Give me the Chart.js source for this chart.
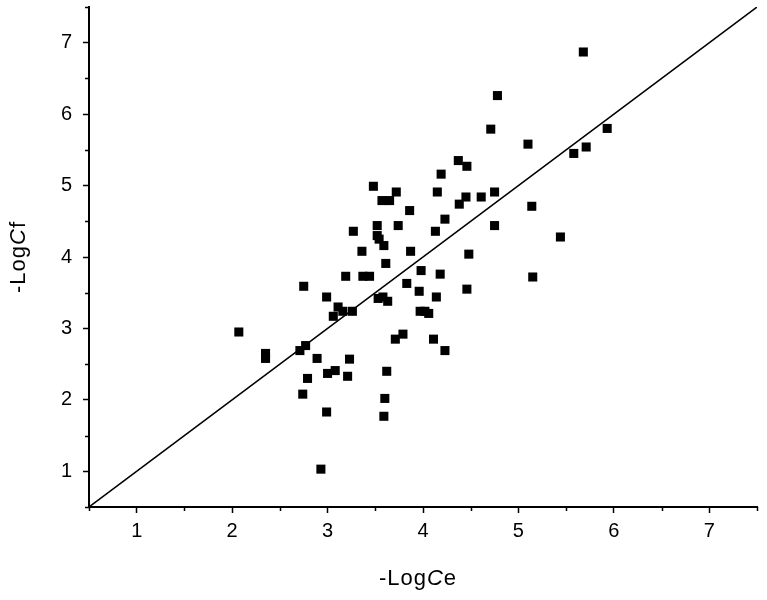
<!DOCTYPE html>
<html>
<head>
<meta charset="utf-8">
<script src="https://cdn.jsdelivr.net/npm/chart.js@4.4.0/dist/chart.umd.min.js"></script>
<style>
  html, body { margin: 0; padding: 0; background: #fff; }
  #wrap { width: 767px; height: 600px; }
</style>
</head>
<body>
<div id="wrap"><canvas id="scatterChart" width="767" height="600"></canvas></div>
<script>
// -------- data -------- //

// -Log Ce (x) for each square marker
const logCe = [
  2.07, 2.35, 2.35, 2.75, 2.71, 2.77, 2.79, 2.89, 2.74, 2.99,
  3.00, 3.08, 2.99, 2.93, 3.06, 3.11, 3.16, 3.26, 3.23, 3.21,
  3.19, 3.27, 3.36, 3.37, 3.44, 3.48, 3.52, 3.52, 3.54, 3.59,
  3.57, 3.65, 3.72, 3.61, 3.53, 3.58, 3.63, 3.62, 3.60, 3.59,
  3.74, 3.86, 3.87, 3.83, 3.71, 3.79, 3.97, 4.02, 4.06, 4.11,
  4.23, 3.96, 4.14, 3.98, 4.18, 4.46, 4.48, 4.13, 4.23, 4.75,
  4.38, 4.45, 4.61, 4.75, 4.15, 4.19, 4.37, 4.46, 4.71, 4.78,
  5.10, 5.14, 5.15, 5.44, 5.58, 5.71, 5.93, 5.68
];

// -Log Cf (y), same order as logCe
const logCf = [
  2.95, 2.65, 2.58, 3.59, 2.69, 2.76, 2.30, 2.58, 2.08, 3.44,
  2.37, 2.41, 1.83, 1.03, 3.17, 3.30, 3.24, 3.24, 2.57, 2.33,
  3.73, 4.36, 4.08, 3.73, 3.73, 4.99, 4.44, 4.30, 4.25, 4.16,
  4.79, 4.79, 4.91, 3.91, 3.42, 3.44, 3.38, 2.40, 2.02, 1.77,
  4.44, 4.65, 4.08, 3.63, 2.85, 2.92, 3.24, 3.24, 3.21, 2.85,
  2.69, 3.52, 3.44, 3.81, 3.76, 3.55, 4.04, 4.36, 4.53, 4.44,
  4.74, 4.84, 4.84, 4.91, 4.91, 5.16, 5.35, 5.27, 5.79, 6.26,
  5.58, 4.71, 3.72, 4.28, 5.45, 5.54, 5.80, 6.87
];

// the 1:1 reference line
const lineX = [0.5, 7.5];
const lineY = [0.5, 7.5];

// axis range and minor tick values
const axisMin = 0.5;
const axisMax = 7.5;
const minorTicks = [0.5, 1.5, 2.5, 3.5, 4.5, 5.5, 6.5, 7.5];

// axis titles, the middle part is set in italic
const xTitleParts = ['-Log', 'C', 'e'];
const yTitleParts = ['-Log', 'C', 'f'];

// -------- ------------- -------- //

const FONT = "'Liberation Sans', Arial, sans-serif";

const points = logCe.map((x, i) => ({ x: x, y: logCf[i] }));
const linePts = lineX.map((x, i) => ({ x: x, y: lineY[i] }));

// minor ticks are shorter, draw them from the scales
const minorTickPlugin = {
    id: 'minorTicks',
    afterDraw(chart) {
        const ctx = chart.ctx;
        const xs = chart.scales.x, ys = chart.scales.y;
        const area = chart.chartArea;
        ctx.save();
        ctx.strokeStyle = '#000';
        ctx.lineWidth = 1.5;
        ctx.beginPath();
        minorTicks.forEach(v => {
            const px = Math.round(xs.getPixelForValue(v)) + 0.5;
            ctx.moveTo(px, area.bottom);
            ctx.lineTo(px, area.bottom + 4);
            const py = Math.round(ys.getPixelForValue(v)) + 0.5;
            ctx.moveTo(area.left, py);
            ctx.lineTo(area.left - 4, py);
        });
        ctx.stroke();
        ctx.restore();
    }
};

// axis titles with an italic C
function drawParts(ctx, parts, cx, baseline) {
    const fonts = parts.map((p, i) => (i === 1 ? 'italic ' : '') + '22px ' + FONT);
    const widths = parts.map((p, i) => { ctx.font = fonts[i]; return ctx.measureText(p).width; });
    const total = widths.reduce((a, b) => a + b, 0);
    let x = cx - total / 2;
    parts.forEach((p, i) => {
        ctx.font = fonts[i];
        ctx.fillText(p, x, baseline);
        x += widths[i];
    });
}

const titlePlugin = {
    id: 'axisTitles',
    afterDraw(chart) {
        const ctx = chart.ctx;
        const area = chart.chartArea;
        ctx.save();
        ctx.fillStyle = '#000';
        ctx.textAlign = 'left';
        ctx.textBaseline = 'alphabetic';
        if ('letterSpacing' in ctx) ctx.letterSpacing = '1px';
        drawParts(ctx, xTitleParts, (area.left + area.right) / 2 - 5, 585);
        ctx.translate(25, (area.top + area.bottom) / 2);
        ctx.rotate(-Math.PI / 2);
        drawParts(ctx, yTitleParts, 0, 0);
        ctx.restore();
    }
};

function tickColor(c) {
    return c.tick && Number.isInteger(c.tick.value) ? '#000' : 'rgba(0,0,0,0)';
}

function axisOptions(size, isY) {
    return {
        type: 'linear',
        min: axisMin,
        max: axisMax,
        border: { display: true, color: '#000', width: 2 },
        grid: {
            drawOnChartArea: false,
            drawTicks: true,
            tickLength: 6,
            tickWidth: 1.5,
            tickColor: tickColor
        },
        ticks: {
            stepSize: 0.5,
            autoSkip: false,
            maxRotation: 0,
            color: '#000',
            padding: isY ? 11 : 6,
            font: { family: FONT, size: 20 },
            callback: v => Number.isInteger(v) ? String(v) : ''
        },
        afterFit(scale) {
            // fixed axis band, and no extra room for end labels
            if (isY) {
                scale.width = size;
                scale.paddingTop = 0;
                scale.paddingBottom = 0;
            } else {
                scale.height = size;
                scale.paddingLeft = 0;
                scale.paddingRight = 0;
            }
        }
    };
}

new Chart(document.getElementById('scatterChart'), {
    type: 'scatter',
    data: {
        datasets: [
            {
                data: points,
                pointStyle: 'rect',
                pointRadius: 6.4,
                pointHoverRadius: 6.4,
                backgroundColor: '#000',
                borderColor: '#000',
                borderWidth: 0
            },
            {
                type: 'line',
                data: linePts,
                borderColor: '#000',
                borderWidth: 1.5,
                pointRadius: 0,
                fill: false
            }
        ]
    },
    options: {
        responsive: false,
        animation: false,
        layout: { padding: { top: 7, right: 10, left: 0, bottom: 0 } },
        plugins: {
            legend: { display: false },
            tooltip: { enabled: false }
        },
        scales: {
            x: axisOptions(93, false),
            y: axisOptions(89, true)
        }
    },
    plugins: [minorTickPlugin, titlePlugin]
});
</script>
</body>
</html>
